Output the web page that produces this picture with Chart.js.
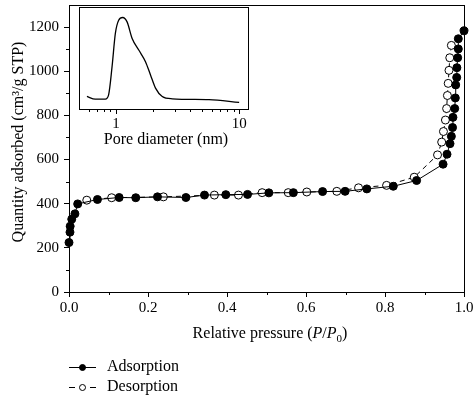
<!DOCTYPE html>
<html>
<head>
<meta charset="utf-8">
<script src="https://cdn.jsdelivr.net/npm/chart.js@4.4.1/dist/chart.umd.min.js"></script>
<style>
  html,body{margin:0;padding:0;background:#fff;}
  #wrap{position:relative;width:474px;height:398px;}
  #main{position:absolute;left:0;top:0;}
  #inset{position:absolute;left:70px;top:0;}
</style>
</head>
<body>
<div id="wrap">
  <canvas id="main" width="474" height="398"></canvas>
  <canvas id="inset" width="190" height="152"></canvas>
</div>
<script>
// ---- data ----
const pressureAds = [0.000,0.0025,0.003,0.007,0.015,0.022,0.072,0.127,0.169,0.224,0.296,0.343,0.397,0.452,0.506,0.568,0.642,0.699,0.754,0.821,0.880,0.947,0.957,0.9646,0.968,0.971,0.972,0.9765,0.978,0.979,0.9815,0.982,0.984,0.9856,0.9856,1.000];
const quantityAds = [224,271,298,330,354,399,419,428,427,431,428,439,441,442,449,450,455,456,467,479,505,579,624,672,705,745,791,831,879,938,972,1016,1061,1101,1147,1183];
const pressureDes = [0.968,0.964,0.962,0.960,0.958,0.956,0.953,0.948,0.9435,0.933,0.874,0.804,0.733,0.678,0.602,0.555,0.489,0.429,0.368,0.239,0.108,0.045];
const quantityDes = [1117,1061,1004,945,890,831,779,727,679,621,520,483,472,456,453,450,450,439,439,431,427,416];
const xTicks = [0,0.2,0.4,0.6,0.8,1.0];
const xMinor = [0.1,0.3,0.5,0.7,0.9];
const yTicks = [0,200,400,600,800,1000,1200];
const yMinor = [100,300,500,700,900,1100];
// inset: pore size distribution
const poreDiameter = [0.58,0.678,0.818,0.870,0.928,0.987,1.050,1.132,1.229,1.351,1.529,1.734,1.905,2.092,2.372,2.862,5.69,10.0];
const poreVolume   = [0.123,0.097,0.097,0.139,0.415,0.741,0.870,0.897,0.854,0.692,0.578,0.464,0.334,0.205,0.123,0.100,0.091,0.064];
const insetTicks = [1,10];
const insetMinor = [0.6,0.7,0.8,0.9,2,3,4,5,6,7,8,9];

const FONT = '"Liberation Serif", "Times New Roman", serif';

function minorTicks(chart, xScale, yScale, xm, ym, len){
  const ctx = chart.ctx;
  ctx.save();
  ctx.strokeStyle = '#000';
  ctx.lineWidth = 1;
  ctx.beginPath();
  const ca = chart.chartArea;
  if (xm) xm.forEach(v=>{
    const px = Math.round(xScale.getPixelForValue(v)) + 0.5;
    ctx.moveTo(px, ca.bottom); ctx.lineTo(px, ca.bottom + len);
  });
  if (ym) ym.forEach(v=>{
    const py = Math.round(yScale.getPixelForValue(v)) + 0.5;
    ctx.moveTo(ca.left, py); ctx.lineTo(ca.left - len, py);
  });
  ctx.stroke();
  ctx.restore();
}

const mainDecor = {
  id:'mainDecor',
  afterDraw(chart){
    const ctx = chart.ctx, ca = chart.chartArea;
    minorTicks(chart, chart.scales.x, chart.scales.y, xMinor, yMinor, 3);
    ctx.save();
    ctx.strokeStyle = '#000'; ctx.lineWidth = 1;
    ctx.beginPath();
    ctx.moveTo(ca.left, Math.round(ca.top)+0.5); ctx.lineTo(ca.right, Math.round(ca.top)+0.5);
    ctx.moveTo(Math.round(ca.right)+0.5, ca.top); ctx.lineTo(Math.round(ca.right)+0.5, ca.bottom);
    ctx.stroke();
    // x title with italic P
    ctx.fillStyle = '#000';
    ctx.textBaseline = 'alphabetic';
    const segs = [
      {t:'Relative pressure (', f:'16px '+FONT, dy:0},
      {t:'P', f:'italic 16px '+FONT, dy:0},
      {t:'/', f:'16px '+FONT, dy:0},
      {t:'P', f:'italic 16px '+FONT, dy:0},
      {t:'0', f:'11px '+FONT, dy:4},
      {t:')', f:'16px '+FONT, dy:0}
    ];
    let w = 0;
    segs.forEach(s=>{ctx.font = s.f; s.w = ctx.measureText(s.t).width; w += s.w;});
    let x = 270 - w/2;
    const base = 338;
    segs.forEach(s=>{ctx.font = s.f; ctx.fillText(s.t, x, base + s.dy); x += s.w;});
    // y title
    ctx.save();
    ctx.translate(19, 142);
    ctx.rotate(-Math.PI/2);
    ctx.font = '16px '+FONT;
    ctx.textAlign = 'center';
    ctx.textBaseline = 'middle';
    ctx.fillText('Quantity adsorbed (cm\u00B3/g STP)', 0, 0);
    ctx.restore();
    // legend
    const rows = [
      {ds:chart.data.datasets[0], y:367},
      {ds:chart.data.datasets[1], y:387}
    ];
    rows.forEach(r=>{
      const yy = r.y + 0.5;
      ctx.beginPath();
      if (r.ds.borderDash && r.ds.borderDash.length){
        ctx.moveTo(69,yy); ctx.lineTo(75,yy);
        ctx.moveTo(90,yy); ctx.lineTo(96,yy);
      } else {
        ctx.moveTo(69,yy); ctx.lineTo(96,yy);
      }
      ctx.strokeStyle = '#000'; ctx.lineWidth = 1; ctx.stroke();
      ctx.beginPath();
      ctx.arc(82.5, yy, 3, 0, Math.PI*2);
      ctx.fillStyle = r.ds.pointBackgroundColor; ctx.fill();
      ctx.strokeStyle = '#000'; ctx.stroke();
      ctx.fillStyle = '#000';
      ctx.font = '16px '+FONT;
      ctx.textAlign = 'left';
      ctx.textBaseline = 'middle';
      ctx.fillText(r.ds.label, 107, r.y);
    });
    ctx.restore();
  }
};

new Chart(document.getElementById('main'), {
  type:'scatter',
  data:{datasets:[
    {label:'Adsorption', data:pressureAds.map((x,i)=>({x:x,y:quantityAds[i]})), showLine:true,
     borderColor:'#000', borderWidth:1, pointRadius:4, pointBackgroundColor:'#000', pointBorderColor:'#000',
     pointBorderWidth:1, clip:false},
    {label:'Desorption', data:pressureDes.map((x,i)=>({x:x,y:quantityDes[i]})), showLine:true,
     borderColor:'#000', borderWidth:1, borderDash:[5,4], pointRadius:4, pointBackgroundColor:'#fff', pointBorderColor:'#000',
     pointBorderWidth:1, clip:false}
  ]},
  options:{
    responsive:false, animation:false,
    layout:{padding:{top:1,right:10,left:0,bottom:0}},
    plugins:{legend:{display:false}, tooltip:{enabled:false}},
    scales:{
      x:{type:'linear', min:0, max:1,
        afterBuildTicks(s){s.ticks = xTicks.map(v=>({value:v}));},
        ticks:{callback:v=>Number(v).toFixed(1), font:{family:FONT,size:15}, color:'#000', padding:2, maxRotation:0, autoSkip:false},
        grid:{drawOnChartArea:false, tickLength:5, color:'#000'},
        border:{color:'#000', width:1},
        afterFit(s){s.height = 106; s.paddingLeft = 0; s.paddingRight = 0;}
      },
      y:{type:'linear', min:0, max:1300,
        afterBuildTicks(s){s.ticks = yTicks.map(v=>({value:v}));},
        ticks:{callback:v=>String(v), font:{family:FONT,size:15}, color:'#000', padding:5, autoSkip:false},
        grid:{drawOnChartArea:false, tickLength:5, color:'#000'},
        border:{color:'#000', width:1},
        afterFit(s){s.width = 69; s.paddingTop = 0; s.paddingBottom = 0;}
      }
    }
  },
  plugins:[mainDecor]
});

const insetDecor = {
  id:'insetDecor',
  afterDraw(chart){
    const ctx = chart.ctx, ca = chart.chartArea;
    minorTicks(chart, chart.scales.x, chart.scales.y, insetMinor, null, 3);
    ctx.save();
    ctx.strokeStyle = '#000'; ctx.lineWidth = 1;
    ctx.strokeRect(Math.round(ca.left)+0.5, Math.round(ca.top)+0.5, Math.round(ca.right-ca.left), Math.round(ca.bottom-ca.top));
    ctx.fillStyle = '#000';
    ctx.font = '16px '+FONT;
    ctx.textAlign = 'center';
    ctx.textBaseline = 'middle';
    ctx.fillText('Pore diameter (nm)', 96, 140);
    ctx.restore();
  }
};

new Chart(document.getElementById('inset'), {
  type:'line',
  data:{datasets:[
    {data:poreDiameter.map((x,i)=>({x:x,y:poreVolume[i]})), borderColor:'#000', borderWidth:1.3,
     pointRadius:0, cubicInterpolationMode:'monotone', fill:false}
  ]},
  options:{
    responsive:false, animation:false,
    layout:{padding:{top:7,right:12,left:0,bottom:0}},
    plugins:{legend:{display:false}, tooltip:{enabled:false}},
    scales:{
      x:{type:'logarithmic', min:0.5, max:11.8,
        afterBuildTicks(s){s.ticks = insetTicks.map(v=>({value:v}));},
        ticks:{callback:v=>String(v), font:{family:FONT,size:15}, color:'#000', padding:1, maxRotation:0, autoSkip:false},
        grid:{drawOnChartArea:false, tickLength:5, color:'#000'},
        border:{color:'#000', width:1},
        afterFit(s){s.height = 43; s.paddingLeft = 0; s.paddingRight = 0;}
      },
      y:{type:'linear', min:0, max:1,
        ticks:{display:false},
        grid:{display:false},
        border:{color:'#000', width:1},
        afterFit(s){s.width = 9; s.paddingTop = 0; s.paddingBottom = 0;}
      }
    }
  },
  plugins:[insetDecor]
});
</script>
</body>
</html>
